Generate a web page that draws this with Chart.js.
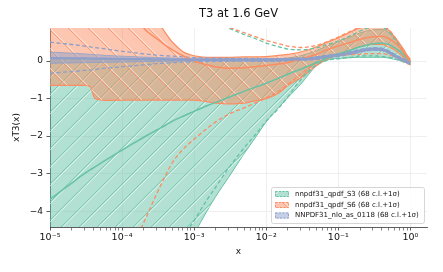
<!DOCTYPE html>
<html>
<head>
<meta charset="utf-8">
<script src="https://cdn.jsdelivr.net/npm/chart.js@4/dist/chart.umd.min.js"></script>
<style>
html,body{margin:0;padding:0;background:#fff;}
#wrap{position:relative;width:443px;height:272px;}
</style>
</head>
<body>
<div id="wrap"><canvas id="c" width="443" height="272"></canvas></div>
<script>
// ---- data ----
const xValues = [1e-5,2e-5,3e-5,3.6e-5,4.2e-5,6e-5,1e-4,1.5e-4,2e-4,3e-4,4e-4,5e-4,7e-4,1e-3,1.5e-3,2e-3,3e-3,5e-3,7e-3,0.01,0.015,0.02,0.03,0.05,0.07,0.1,0.15,0.2,0.3,0.4,0.5,0.6,0.7,0.8,0.9,1.0];

const s3Central = [-3.68,-3.25,-3.0,-2.9,-2.82,-2.63,-2.37,-2.17,-2.03,-1.84,-1.71,-1.6,-1.47,-1.34,-1.19,-1.1,-0.97,-0.8,-0.7,-0.59,-0.45,-0.35,-0.22,-0.04,0.08,0.19,0.3,0.38,0.46,0.48,0.44,0.36,0.27,0.17,0.06,-0.02];
const s3Lo68 = [-12,-11,-10.3,-10,-9.7,-9.1,-8.2,-7.5,-7.0,-6.3,-5.8,-5.5,-5.1,-4.6,-4.0,-3.6,-3.1,-2.45,-2.05,-1.62,-1.23,-0.97,-0.62,-0.12,0.03,0.07,0.09,0.1,0.1,0.1,0.08,0.05,0.02,-0.02,-0.05,-0.08];
const s3Hi68 = [0.06,0.06,0.06,0.06,0.06,0.05,0.05,0.05,0.05,0.04,0.04,0.04,0.04,0.04,0.04,0.04,0.04,0.04,0.04,0.05,0.06,0.08,0.14,0.28,0.4,0.52,0.65,0.75,0.83,0.84,0.76,0.62,0.46,0.3,0.14,0.02];
const s3SigHi = [5.5,5.0,4.7,4.6,4.5,4.1,3.5,3.0,2.7,2.3,2.0,1.8,1.55,1.35,1.15,1.02,0.88,0.7,0.6,0.48,0.38,0.32,0.3,0.35,0.44,0.53,0.68,0.8,0.9,0.9,0.78,0.6,0.4,0.22,0.06,-0.04];
const s3SigLo = [-15,-14,-13.2,-12.8,-12.4,-11.5,-10,-8.8,-8.0,-6.9,-6.2,-5.7,-4.75,-4.25,-3.7,-3.35,-2.85,-2.3,-1.97,-1.6,-1.25,-0.95,-0.5,-0.1,0.02,0.06,0.1,0.13,0.14,0.12,0.1,0.06,0.02,-0.02,-0.06,-0.08];

const s6Central = [4.0,3.6,3.4,3.3,3.2,2.7,1.9,1.3,0.88,0.6,0.42,0.3,0.14,0.0,-0.1,-0.16,-0.19,-0.18,-0.15,-0.12,-0.08,-0.04,0.05,0.18,0.3,0.4,0.5,0.58,0.65,0.66,0.6,0.5,0.38,0.25,0.1,-0.02];
const s6Lo68 = [-0.65,-0.65,-0.65,-0.68,-1.0,-1.05,-1.04,-1.04,-1.04,-1.04,-1.04,-1.04,-1.04,-1.04,-1.08,-1.12,-1.14,-1.12,-1.06,-1.0,-0.85,-0.65,-0.45,-0.12,0.05,0.18,0.3,0.38,0.44,0.44,0.38,0.3,0.2,0.1,0.0,-0.06];
const s6Hi68 = [2.5,2.4,2.35,2.3,2.3,2.2,2.0,1.8,1.5,1.1,0.75,0.5,0.25,0.14,0.1,0.1,0.1,0.11,0.11,0.12,0.15,0.18,0.24,0.38,0.5,0.62,0.78,0.88,0.95,0.93,0.82,0.65,0.48,0.32,0.16,0.05];
const s6SigHi = [5.0,4.6,4.3,4.2,4.1,3.8,3.3,2.9,2.6,2.2,1.95,1.75,1.5,1.3,1.1,1.0,0.9,0.75,0.65,0.55,0.46,0.4,0.36,0.42,0.52,0.64,0.8,0.9,0.97,0.95,0.84,0.66,0.46,0.28,0.1,-0.02];
const s6SigLo = [-10,-9,-8.2,-7.8,-7.5,-6.6,-5.6,-4.8,-4.3,-3.55,-3.05,-2.7,-2.35,-2.08,-1.8,-1.62,-1.42,-1.24,-1.12,-0.98,-0.8,-0.62,-0.35,-0.05,0.08,0.15,0.17,0.18,0.2,0.2,0.16,0.12,0.06,0.0,-0.06,-0.1];

const nnCentral = [0.08,0.075,0.07,0.068,0.066,0.062,0.056,0.052,0.05,0.046,0.043,0.04,0.036,0.033,0.03,0.03,0.03,0.03,0.03,0.03,0.032,0.036,0.05,0.08,0.12,0.16,0.22,0.27,0.32,0.31,0.24,0.15,0.08,0.03,-0.02,-0.06];
const nnHi68 = [0.24,0.21,0.19,0.18,0.17,0.15,0.13,0.115,0.105,0.095,0.085,0.08,0.072,0.066,0.062,0.06,0.06,0.06,0.06,0.06,0.062,0.066,0.08,0.11,0.15,0.19,0.25,0.3,0.35,0.34,0.27,0.18,0.11,0.06,0.01,-0.03];
const nnLo68 = [-0.06,-0.05,-0.045,-0.042,-0.04,-0.035,-0.028,-0.02,-0.016,-0.01,-0.006,-0.003,0,0,0,0,0,0,0,0,0.002,0.006,0.02,0.05,0.09,0.13,0.19,0.24,0.29,0.28,0.21,0.12,0.05,0,-0.05,-0.09];
const nnSigHi = [0.5,0.44,0.4,0.38,0.36,0.32,0.26,0.22,0.19,0.16,0.14,0.13,0.11,0.09,0.08,0.075,0.07,0.068,0.066,0.066,0.067,0.071,0.085,0.115,0.155,0.195,0.255,0.305,0.355,0.345,0.275,0.185,0.115,0.065,0.015,-0.025];
const nnSigLo = [-0.32,-0.28,-0.25,-0.24,-0.22,-0.19,-0.15,-0.12,-0.1,-0.07,-0.055,-0.045,-0.03,-0.02,-0.012,-0.008,-0.004,-0.004,-0.006,-0.006,-0.003,0.001,0.015,0.045,0.085,0.125,0.185,0.235,0.285,0.275,0.205,0.115,0.045,-0.005,-0.055,-0.095];

const yTickValues = [-4,-3,-2,-1,0];
const xMajorExponents = [-5,-4,-3,-2,-1,0];
const seriesNames = ['nnpdf31_qpdf_S3 (68 c.l.+1σ)','nnpdf31_qpdf_S6 (68 c.l.+1σ)','NNPDF31_nlo_as_0118 (68 c.l.+1σ)'];

// ---- styling ----
const GREEN = '102,194,165', ORANGE = '252,141,98', BLUE = '141,160,203';
const canvas = document.getElementById('c');
const ctx = canvas.getContext('2d');

function makeHatch(rgb, dir, size){
  const c = document.createElement('canvas'); c.width = size; c.height = size;
  const g = c.getContext('2d');
  g.fillStyle = 'rgba(' + rgb + ',0.5)'; g.fillRect(0,0,size,size);
  if (dir) {
    const lines = (off, style, w) => {
      g.strokeStyle = style; g.lineWidth = w;
      for (const k of [-size, 0, size]) {
        g.beginPath();
        if (dir === '/') { g.moveTo(k + off, size); g.lineTo(k + size + off, 0); }
        else { g.moveTo(k + off, 0); g.lineTo(k + size + off, size); }
        g.stroke();
      }
    };
    lines(2, 'rgba(255,255,255,0.55)', 1);
    lines(0, 'rgba(' + rgb + ',0.9)', 0.8);
  }
  return ctx.createPattern(c, 'repeat');
}
const greenHatch = makeHatch(GREEN, '/', 18);
const orangeHatch = makeHatch(ORANGE, '\\', 20);
const blueHatch = makeHatch(BLUE, null, 18);

function pts(arr){ return xValues.map((x,i)=>({x:x, y:arr[i]})); }
function line(arr, rgb, opts){
  return Object.assign({data: pts(arr), borderColor: 'rgb(' + rgb + ')', borderWidth: 1, pointRadius: 0,
    fill: false, cubicInterpolationMode: 'monotone'}, opts);
}

const datasets = [
  line(s3Lo68, GREEN, {order: 100, borderWidth: 1}),
  line(s3Hi68, GREEN, {order: 99, borderWidth: 1, fill: '-1', backgroundColor: greenHatch}),
  line(s6Lo68, ORANGE, {order: 90, borderWidth: 1.2}),
  line(s6Hi68, ORANGE, {order: 89, borderWidth: 1.2, fill: '-1', backgroundColor: orangeHatch}),
  line(nnLo68, BLUE, {order: 80, borderWidth: 0.8}),
  line(nnHi68, BLUE, {order: 79, borderWidth: 0.8, fill: '-1', backgroundColor: blueHatch}),
  line(s3SigHi, GREEN, {order: 60, borderWidth: 1.3, borderDash: [4,2.5]}),
  line(s3SigLo, GREEN, {order: 60, borderWidth: 1.3, borderDash: [4,2.5]}),
  line(s6SigHi, ORANGE, {order: 59, borderWidth: 1.3, borderDash: [4,2.5]}),
  line(s6SigLo, ORANGE, {order: 59, borderWidth: 1.3, borderDash: [4,2.5]}),
  line(nnSigHi, BLUE, {order: 58, borderWidth: 1.3, borderDash: [4,2.5]}),
  line(nnSigLo, BLUE, {order: 58, borderWidth: 1.3, borderDash: [4,2.5]}),
  line(s3Central, GREEN, {order: 20, borderWidth: 1.5}),
  line(s6Central, ORANGE, {order: 19, borderWidth: 1.5}),
  line(nnCentral, BLUE, {order: 18, borderWidth: 2.2})
];

const supers = {'-':'⁻','0':'⁰','1':'¹','2':'²','3':'³','4':'⁴','5':'⁵','6':'⁶','7':'⁷','8':'⁸','9':'⁹'};
function sup(n){ return String(n).split('').map(ch=>supers[ch]).join(''); }

const legendPlugin = {
  id: 'boxLegend',
  afterDraw(chart){
    const c = chart.ctx;
    const bx = 271, by = 187, bw = 153, bh = 36;
    c.save();
    c.fillStyle = 'rgba(255,255,255,0.85)';
    c.strokeStyle = '#cccccc'; c.lineWidth = 0.8;
    c.beginPath();
    if (c.roundRect) c.roundRect(bx+0.5, by+0.5, bw, bh, 2); else c.rect(bx+0.5, by+0.5, bw, bh);
    c.fill(); c.stroke();
    const rows = [194, 205, 215.5];
    const fills = [greenHatch, orangeHatch, blueHatch];
    const cols = [GREEN, ORANGE, BLUE];
    for (let i = 0; i < 3; i++) {
      const y = rows[i];
      c.fillStyle = fills[i];
      c.fillRect(275, y-3, 14, 6);
      c.setLineDash([2,1.5]);
      c.strokeStyle = 'rgb(' + cols[i] + ')'; c.lineWidth = 1;
      c.strokeRect(275.5, y-2.5, 13, 5);
      c.setLineDash([]);
      c.fillStyle = '#111';
      c.font = '7px "DejaVu Sans"';
      c.textBaseline = 'middle'; c.textAlign = 'left';
      c.fillText(seriesNames[i], 295, y);
    }
    c.restore();
  }
};

new Chart(ctx, {
  type: 'line',
  data: { datasets: datasets },
  plugins: [legendPlugin],
  options: {
    responsive: false, animation: false, devicePixelRatio: 1,
    layout: { padding: { left: 0, right: 16, top: 0, bottom: 0 } },
    plugins: {
      legend: { display: false }, tooltip: { enabled: false },
      title: { display: true, text: 'T3 at 1.6 GeV', fullSize: false, color: '#111',
        font: { family: 'DejaVu Sans', size: 11.5, weight: 'normal' }, padding: { top: 7.5, bottom: 6.7 } }
    },
    scales: {
      x: {
        type: 'logarithmic', min: 1e-5, max: 1.7,
        afterFit(s){ s.height = 45; },
        afterBuildTicks(s){
          const t = [];
          for (const e of xMajorExponents) {
            t.push({value: Math.pow(10, e), major: true});
            if (e < 0) for (let m = 2; m <= 9; m++) t.push({value: m * Math.pow(10, e), major: false});
          }
          s.ticks = t;
        },
        ticks: {
          autoSkip: false, maxRotation: 0, padding: 1.5, color: '#111',
          font: { family: 'DejaVu Sans', size: 9.5 },
          callback(v){ const e = Math.round(Math.log10(v)); return Math.abs(v - Math.pow(10,e)) < 1e-12 * Math.pow(10,e) ? '10' + sup(e) : ''; }
        },
        grid: {
          color: c => (c.tick && c.tick.major) ? '#ebebeb' : 'rgba(0,0,0,0)',
          lineWidth: 0.8, tickLength: 3.5,
          tickColor: '#333', tickWidth: c => (c.tick && c.tick.major) ? 0.8 : 0.6
        },
        border: { display: true, color: '#333', width: 0.8 },
        title: { display: true, text: 'x', color: '#111', font: { family: 'DejaVu Sans', size: 9 }, padding: { top: 0, bottom: 14.6 } }
      },
      y: {
        type: 'linear', min: -4.42, max: 0.88,
        afterFit(s){ s.width = 50; },
        afterBuildTicks(s){ s.ticks = yTickValues.map(v => ({value: v})); },
        ticks: {
          padding: 3.5, color: '#111', font: { family: 'DejaVu Sans', size: 9 },
          callback(v){ return v < 0 ? '\u2212' + Math.abs(v) : String(v); }
        },
        grid: { color: '#ebebeb', lineWidth: 0.8, tickLength: 3.5, tickColor: '#333', tickWidth: 0.8 },
        border: { display: true, color: '#333', width: 0.8 },
        title: { display: true, text: 'xT3(x)', color: '#111', font: { family: 'DejaVu Sans', size: 9 }, padding: { top: 11.6, bottom: 0 } }
      }
    }
  }
});
</script>
</body>
</html>
